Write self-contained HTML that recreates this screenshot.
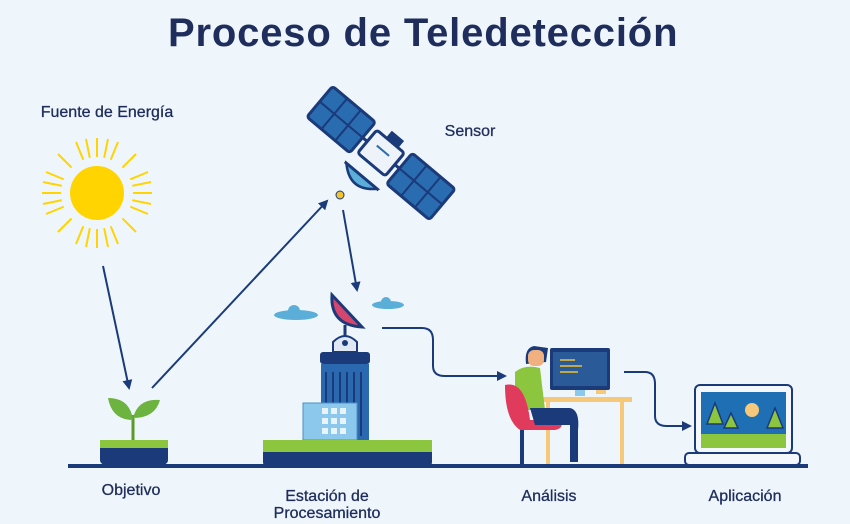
<!DOCTYPE html>
<html><head><meta charset="utf-8"><style>
html,body{margin:0;padding:0;background:#eef6fb;}
svg{display:block;font-family:"Liberation Sans",sans-serif;}
</style></head><body>
<svg width="850" height="524" viewBox="0 0 850 524" xmlns="http://www.w3.org/2000/svg">
<defs>
<marker id="ar" markerWidth="10" markerHeight="10" refX="8" refY="5" orient="auto" markerUnits="userSpaceOnUse">
<path d="M0,0 L10,5 L0,10 z" fill="#1a3a7a"/></marker>
</defs>
<rect width="850" height="524" fill="#eef6fb"/>
<text x="423" y="46" text-anchor="middle" font-size="40" font-weight="bold" fill="#1f2d5c" letter-spacing="0.5" textLength="510">Proceso de  Teledetección</text>
<g font-size="16" fill="#1f2d5c" font-weight="500" stroke="#1f2d5c" stroke-width="0.3">
<text x="107" y="117" text-anchor="middle">Fuente de Energía</text>
<text x="470" y="136" text-anchor="middle">Sensor</text>
<text x="131" y="495" text-anchor="middle">Objetivo</text>
<text x="327" y="501" text-anchor="middle">Estación de</text>
<text x="327" y="518" text-anchor="middle">Procesamiento</text>
<text x="549" y="501" text-anchor="middle">Análisis</text>
<text x="745" y="501" text-anchor="middle">Aplicación</text>
</g>
<!-- sun -->
<g stroke="#ffd400" stroke-width="2">
<line x1="97" y1="138" x2="97" y2="248"/><line x1="42" y1="193" x2="152" y2="193"/>
<line x1="58" y1="154" x2="136" y2="232"/><line x1="136" y1="154" x2="58" y2="232"/>
<line x1="76" y1="142" x2="118" y2="244"/><line x1="118" y1="142" x2="76" y2="244"/>
<line x1="46" y1="172" x2="148" y2="214"/><line x1="148" y1="172" x2="46" y2="214"/>
<line x1="86" y1="139" x2="108" y2="247"/><line x1="108" y1="139" x2="86" y2="247"/>
<line x1="43" y1="182" x2="151" y2="204"/><line x1="151" y1="182" x2="43" y2="204"/>
</g>
<circle cx="97" cy="193" r="36" fill="#eef6fb"/>
<circle cx="97" cy="193" r="27" fill="#ffd400"/>
<!-- arrows -->
<g stroke="#1a3a7a" stroke-width="2" fill="none">
<line x1="103" y1="266" x2="129" y2="388" marker-end="url(#ar)"/>
<line x1="152" y1="388" x2="327" y2="201" marker-end="url(#ar)"/>
<line x1="343" y1="210" x2="357" y2="290" marker-end="url(#ar)"/>
<path d="M382,328 H422 Q433,328 433,340 V366 Q433,376 445,376 H505" marker-end="url(#ar)"/>
<path d="M624,372 H645 Q655,372 655,384 V416 Q655,426 667,426 H690" marker-end="url(#ar)"/>
</g>
<!-- ground -->
<rect x="68" y="464" width="740" height="4" fill="#1a3a7a"/>
<!-- plant -->
<rect x="100" y="440" width="68" height="8" fill="#8cc63f"/>
<path d="M100,448 H168 V460 Q168,465 160,465 H108 Q100,465 100,460 z" fill="#1a3a7a"/>
<line x1="133" y1="440" x2="133" y2="415" stroke="#5a9a2a" stroke-width="3"/>
<path d="M133,420 Q112,420 108,398 Q130,398 133,420z" fill="#6db33f"/>
<path d="M133,418 Q155,418 160,400 Q138,398 133,418z" fill="#6db33f"/>
<!-- satellite -->
<g transform="translate(381,153) rotate(40)">
<g fill="#2a6cb0" stroke="#1a3a7a" stroke-width="3">
<rect x="-80" y="-20" width="56" height="40" rx="3"/>
<rect x="24" y="-20" width="56" height="40" rx="3"/>
</g>
<g stroke="#1a3a7a" stroke-width="2">
<line x1="-80" y1="0" x2="-24" y2="0"/><line x1="-61" y1="-20" x2="-61" y2="20"/><line x1="-43" y1="-20" x2="-43" y2="20"/>
<line x1="24" y1="0" x2="80" y2="0"/><line x1="43" y1="-20" x2="43" y2="20"/><line x1="61" y1="-20" x2="61" y2="20"/>
<line x1="-24" y1="0" x2="24" y2="0" stroke-width="3"/>
</g>
<rect x="-18" y="-15" width="36" height="30" rx="3" fill="#eef3f9" stroke="#1a3a7a" stroke-width="3"/>
<line x1="-8" y1="-3" x2="8" y2="-3" stroke="#2a6cb0" stroke-width="2"/>
<rect x="-6" y="-24" width="16" height="9" fill="#1a3a7a"/>
<path d="M-20,30 Q0,50 20,30 z" fill="#5aaed8" stroke="#1a3a7a" stroke-width="2.5"/>
<line x1="-22" y1="30" x2="22" y2="30" stroke="#1a3a7a" stroke-width="3"/>
</g>
<circle cx="340" cy="195" r="4" fill="#f2c230" stroke="#1a3a7a" stroke-width="1"/>
<!-- clouds -->
<ellipse cx="296" cy="315" rx="22" ry="5" fill="#5aaed8"/><circle cx="294" cy="311" r="6" fill="#5aaed8"/>
<ellipse cx="388" cy="305" rx="16" ry="4" fill="#5aaed8"/><circle cx="386" cy="302" r="5" fill="#5aaed8"/>
<!-- station -->
<path d="M332,295 Q330,325 362,327 Z" fill="#d4466e" stroke="#1a3a7a" stroke-width="3"/>
<line x1="345" y1="325" x2="345" y2="336" stroke="#1a3a7a" stroke-width="3"/>
<path d="M333,352 V342 Q345,330 357,342 V352z" fill="#dfe8f3" stroke="#1a3a7a" stroke-width="2"/>
<circle cx="345" cy="343" r="3" fill="#1a3a7a"/>
<rect x="320" y="352" width="50" height="12" rx="3" fill="#1a3a7a"/>
<rect x="321" y="364" width="48" height="76" fill="#2a68b0"/>
<g stroke="#1a3a7a" stroke-width="2">
<line x1="326" y1="372" x2="326" y2="436"/><line x1="333" y1="372" x2="333" y2="436"/><line x1="340" y1="372" x2="340" y2="436"/><line x1="347" y1="372" x2="347" y2="436"/><line x1="354" y1="372" x2="354" y2="436"/><line x1="361" y1="372" x2="361" y2="436"/></g>
<rect x="303" y="403" width="54" height="37" fill="#8cc7ec" stroke="#4a90c8"/>
<g fill="#e8f4fb"><rect x="322" y="408" width="6" height="6"/><rect x="331" y="408" width="6" height="6"/><rect x="340" y="408" width="6" height="6"/><rect x="322" y="418" width="6" height="6"/><rect x="331" y="418" width="6" height="6"/><rect x="340" y="418" width="6" height="6"/><rect x="322" y="428" width="6" height="6"/><rect x="331" y="428" width="6" height="6"/><rect x="340" y="428" width="6" height="6"/></g>
<rect x="263" y="440" width="169" height="12" fill="#8cc63f"/>
<path d="M263,452 H432 V462 Q432,467 425,467 H270 Q263,467 263,462z" fill="#1a3a7a"/>
<!-- analysis -->
<g fill="#f6c97a"><rect x="540" y="397" width="92" height="5"/><rect x="546" y="402" width="4" height="62"/><rect x="620" y="402" width="4" height="62"/><rect x="596" y="384" width="10" height="10"/></g>
<rect x="550" y="348" width="60" height="42" rx="2" fill="#1a3a7a"/><rect x="553" y="352" width="54" height="34" fill="#2a5a98"/>
<g stroke="#f2c230" stroke-width="1.5"><line x1="560" y1="360" x2="575" y2="360"/><line x1="560" y1="366" x2="582" y2="366"/><line x1="560" y1="372" x2="578" y2="372"/></g>
<rect x="575" y="390" width="10" height="6" fill="#8cc7ec"/>
<path d="M534,346 Q524,348 526,364 L546,362 L548,348z" fill="#1a3a7a"/>
<rect x="528" y="350" width="16" height="16" rx="6" fill="#f0b080"/>
<path d="M515,372 Q525,364 540,368 L545,410 L515,410z" fill="#8cc63f"/>
<path d="M505,385 Q525,380 530,420 L560,420 Q565,428 555,430 L520,430 Q505,420 505,385z" fill="#e03a5c"/>
<path d="M530,408 H570 Q580,410 578,430 V462 H570 V425 H535z" fill="#1a3a7a"/>
<rect x="520" y="430" width="4" height="34" fill="#1a3a7a"/>
<!-- laptop -->
<rect x="695" y="385" width="97" height="68" rx="5" fill="#f4f8fc" stroke="#1a3a7a" stroke-width="2"/>
<rect x="701" y="392" width="85" height="56" fill="#1f6fb5"/>
<rect x="701" y="434" width="85" height="14" fill="#8cc63f"/>
<circle cx="752" cy="410" r="7" fill="#f6c97a"/>
<g fill="#8cc63f" stroke="#1a3a7a" stroke-width="1.5"><path d="M715,403 L707,424 H723z"/><path d="M731,413 L724,428 H738z"/><path d="M775,408 L767,428 H783z"/></g>
<rect x="685" y="453" width="115" height="12" rx="4" fill="#f4f8fc" stroke="#1a3a7a" stroke-width="2"/>
</svg>
</body></html>
